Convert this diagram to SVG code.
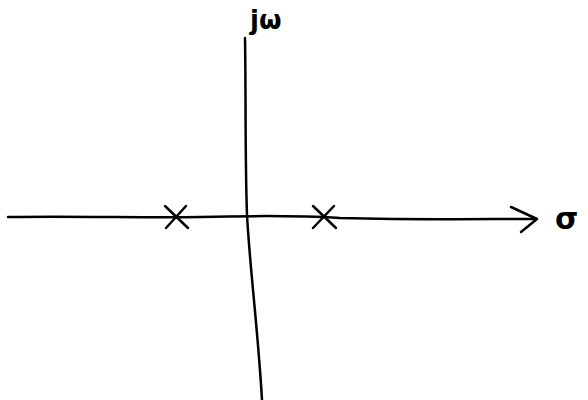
<svg xmlns="http://www.w3.org/2000/svg" width="588" height="400" viewBox="0 0 588 400">
<style>
.ln{fill:none;stroke:#000;stroke-width:2.5;stroke-linecap:round;stroke-linejoin:round}
.lbl{font-family:"DejaVu Sans",sans-serif;font-weight:bold;fill:#000}
</style>
<rect width="588" height="400" fill="#fff"/>
<g id="connectors">
<path class="ln" d="M8,217 C80,216 150,218 200,217 C240,216 290,215 340,218 C420,220 480,219 536,219"/>
<path class="ln" d="M511,207 L537,219 L521,232"/>
<path class="ln" d="M245,38 C246,100 245,160 247,215 C250,270 258,330 262,400"/>
</g>
<g id="pole1">
<path class="ln" d="M165,206 L188,228 M186,206 L166,228"/>
</g>
<g id="pole2">
<path class="ln" d="M313,206 L336,228 M334,206 L313,228"/>
</g>
<g id="label-jw">
<text class="lbl" x="250" y="29" font-size="26">jω</text>
</g>
<g id="label-sigma">
<text class="lbl" x="555" y="229" font-size="30">σ</text>
</g>
</svg>
